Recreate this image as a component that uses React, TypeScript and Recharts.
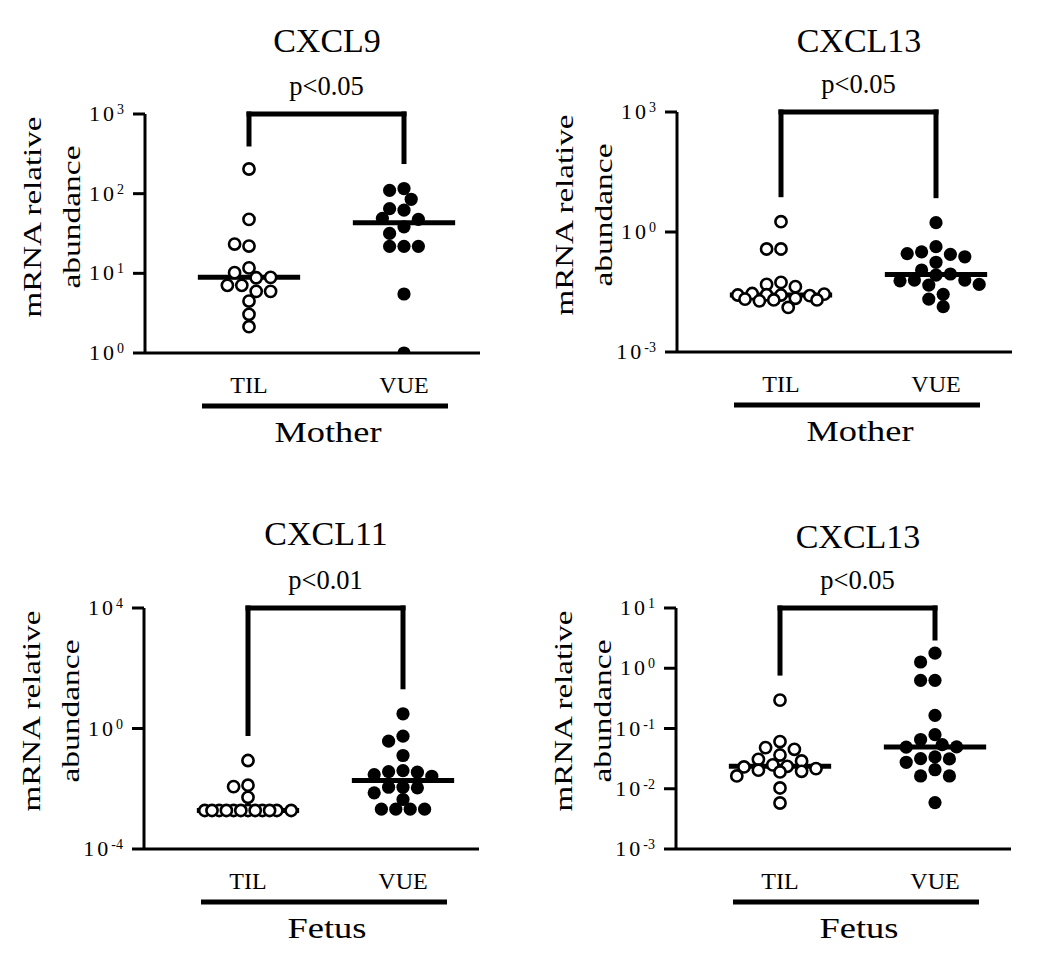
import React from "react";
import { ScatterChart, Scatter, XAxis, YAxis, ReferenceLine } from "recharts";

const FONT = "'Liberation Serif', 'Times New Roman', Times, serif";
const GROUPS = ["TIL", "VUE"];

// CXCL9 (mother)
const CXCL9_TIL = [204, 47.6, 22, 23.3, 11.7, 10.2, 8.8, 8.9, 7.07, 7.07, 5.94, 5.94, 4.49, 3.06, 2.14];
const CXCL9_VUE = [116, 110, 85, 62, 65, 47.6, 49, 38.4, 31.7, 21.8, 21.8, 21.8, 5.5, 1.0];
const CXCL9_MEDIAN = [8.9, 43];
const CXCL9_TICKS = [1, 10, 100, 1000];

// CXCL13 (mother)
const CXCL13M_TIL = [1.81, 0.376, 0.376, 0.055, 0.049, 0.043, 0.029, 0.0266, 0.0256, 0.0266, 0.028, 0.027, 0.022, 0.02, 0.019, 0.021, 0.02, 0.013];
const CXCL13M_VUE = [1.71, 0.43, 0.32, 0.277, 0.288, 0.24, 0.175, 0.112, 0.084, 0.089, 0.063, 0.063, 0.06, 0.049, 0.047, 0.0276, 0.021, 0.0136];
const CXCL13M_MEDIAN = [0.0266, 0.0865];
const CXCL13M_TICKS = [0.001, 1, 1000];

// CXCL11 (fetus)
const CXCL11_TIL = [0.0865, 0.0131, 0.0118, 0.0052, 0.0019, 0.0019, 0.0019, 0.0019, 0.0019, 0.0019, 0.0019, 0.0019, 0.0019, 0.0019, 0.0019, 0.0019];
const CXCL11_VUE = [3.08, 0.555, 0.38, 0.127, 0.04, 0.037, 0.0354, 0.0296, 0.026, 0.0112, 0.0112, 0.0107, 0.0073, 0.0044, 0.0021, 0.0021, 0.0021, 0.0021];
const CXCL11_MEDIAN = [0.0019, 0.0187];
const CXCL11_TICKS = [0.0001, 1, 10000];

// CXCL13 (fetus)
const CXCL13F_TIL = [0.296, 0.0607, 0.0482, 0.0452, 0.0363, 0.0308, 0.0289, 0.0249, 0.0236, 0.023, 0.0216, 0.0203, 0.0195, 0.019, 0.0163, 0.0103, 0.0058];
const CXCL13F_VUE = [1.78, 1.27, 0.63, 0.63, 0.165, 0.079, 0.0656, 0.054, 0.0495, 0.049, 0.0338, 0.0316, 0.0313, 0.0275, 0.0207, 0.0163, 0.0163, 0.0059];
const CXCL13F_MEDIAN = [0.0236, 0.0495];
const CXCL13F_TICKS = [0.001, 0.01, 0.1, 1, 10];

const TITLES = ["CXCL9", "CXCL13", "CXCL11", "CXCL13"];
const P_TEXTS = ["p<0.05", "p<0.05", "p<0.01", "p<0.05"];
const SOURCES = ["Mother", "Mother", "Fetus", "Fetus"];

const panels = [
  { title: TITLES[0], pText: P_TEXTS[0], group: SOURCES[0], til: CXCL9_TIL, vue: CXCL9_VUE, median: CXCL9_MEDIAN, ticks: CXCL9_TICKS, left: 0, top: 0, axisLeft: 145, plotTop: 114, plotH: 239, titleY: 52 },
  { title: TITLES[1], pText: P_TEXTS[1], group: SOURCES[1], til: CXCL13M_TIL, vue: CXCL13M_VUE, median: CXCL13M_MEDIAN, ticks: CXCL13M_TICKS, left: 532, top: 0, axisLeft: 145, plotTop: 112, plotH: 240, titleY: 52 },
  { title: TITLES[2], pText: P_TEXTS[2], group: SOURCES[2], til: CXCL11_TIL, vue: CXCL11_VUE, median: CXCL11_MEDIAN, ticks: CXCL11_TICKS, left: 0, top: 494, axisLeft: 144, plotTop: 114, plotH: 241, titleY: 51 },
  { title: TITLES[3], pText: P_TEXTS[3], group: SOURCES[3], til: CXCL13F_TIL, vue: CXCL13F_VUE, median: CXCL13F_MEDIAN, ticks: CXCL13F_TICKS, left: 532, top: 494, axisLeft: 144, plotTop: 114, plotH: 241, titleY: 54 },
];

const W = 490;
const H = 480;
const PLOT_W = 335;
const PX_PER_UNIT = 155;
const X_MIN = 1 - 104 / PX_PER_UNIT;
const X_MAX = X_MIN + PLOT_W / PX_PER_UNIT;
const STEP = 7.2; // half a dot column
const MAX_K = 6; // at most 3 columns each side
const MIN_DIST = 12;

// beeswarm: horizontal pixel offset for each value, squeezed when crowded
function swarm(values: number[], pxPerDecade: number): number[] {
  const placed: { y: number; dx: number }[] = [];
  return values.map((v) => {
    const y = -Math.log10(v) * pxPerDecade;
    let best = 0;
    let bestD = -1;
    for (let k = 0; k <= 2 * MAX_K; k++) {
      const dx = (k % 2 === 1 ? -1 : 1) * Math.ceil(k / 2) * STEP;
      const d = placed.reduce((m, p) => Math.min(m, Math.hypot(p.dx - dx, p.y - y)), Infinity);
      if (d >= MIN_DIST) {
        best = dx;
        break;
      }
      if (d > bestD + 0.5) {
        best = dx;
        bestD = d;
      }
    }
    placed.push({ y, dx: best });
    return best;
  });
}

const OpenDot = (props: any) => (
  <circle cx={props.cx + (props.payload?.dx ?? 0)} cy={props.cy} r={5.6} fill="#fff" stroke="#000" strokeWidth={2.6} />
);
const FilledDot = (props: any) => (
  <circle cx={props.cx + (props.payload?.dx ?? 0)} cy={props.cy} r={6.6} fill="#000" />
);

const PowTick = ({ y, payload, axisLeft }: any) => {
  const exp = Math.round(Math.log10(payload.value));
  return (
    <text x={axisLeft - 21} y={y + 7} textAnchor="end" fontFamily={FONT} fill="#000">
      <tspan fontSize={22} letterSpacing={3}>10</tspan>
      <tspan fontSize={14} dy={-7}>{String(exp)}</tspan>
    </text>
  );
};

const GroupTick = ({ x, y, payload }: any) => (
  <text x={x} y={y + 40} textAnchor="middle" fontFamily={FONT} fontSize={24} fill="#000">
    {GROUPS[payload.value - 1]}
  </text>
);

const Panel = ({ p }: any) => {
  const lo = p.ticks[0];
  const hi = p.ticks[p.ticks.length - 1];
  const pxDec = p.plotH / (Math.log10(hi) - Math.log10(lo));
  const tilDx = swarm(p.til, pxDec);
  const vueDx = swarm(p.vue, pxDec);
  const tilData = p.til.map((v: number, i: number) => ({ x: 1, y: v, dx: tilDx[i] }));
  const vueData = p.vue.map((v: number, i: number) => ({ x: 2, y: v, dx: vueDx[i] }));
  const legEnd = (vals: number[]) =>
    Math.min(Math.max(...vals) * Math.pow(10, 27 / pxDec), hi / Math.pow(10, 30 / pxDec));
  const plotBottom = p.plotTop + p.plotH;
  const xAxisH = 110;
  const groupLen = p.group === "Mother" ? 107 : 79;

  return (
    <div style={{ position: "absolute", left: p.left, top: p.top, width: W, height: H }}>
      <ScatterChart width={W} height={H} margin={{ top: p.plotTop, right: W - p.axisLeft - PLOT_W, bottom: H - plotBottom - xAxisH, left: 0 }}>
        <XAxis
          type="number"
          dataKey="x"
          domain={[X_MIN, X_MAX]}
          ticks={[1, 2]}
          allowDataOverflow
          height={xAxisH}
          tickLine={false}
          tickSize={0}
          tickMargin={0}
          axisLine={{ stroke: "#000", strokeWidth: 3 }}
          tick={<GroupTick />}
        />
        <YAxis
          type="number"
          dataKey="y"
          scale="log"
          domain={[lo, hi]}
          ticks={p.ticks}
          interval={0}
          allowDataOverflow
          width={p.axisLeft}
          tickSize={12}
          tickLine={{ stroke: "#000", strokeWidth: 3 }}
          axisLine={{ stroke: "#000", strokeWidth: 3 }}
          tick={<PowTick axisLeft={p.axisLeft} />}
        />
        <ReferenceLine
          segment={[{ x: 1, y: hi }, { x: 2, y: hi }]}
          stroke="#000"
          strokeWidth={5}
          strokeLinecap="square"
          ifOverflow="visible"
          label={{ value: p.pText, position: "top", offset: 19, fill: "#000", fontSize: 26.5, fontFamily: FONT }}
        />
        <ReferenceLine segment={[{ x: 1, y: hi }, { x: 1, y: legEnd(p.til) }]} stroke="#000" strokeWidth={5} strokeLinecap="square" ifOverflow="visible" />
        <ReferenceLine segment={[{ x: 2, y: hi }, { x: 2, y: legEnd(p.vue) }]} stroke="#000" strokeWidth={5} strokeLinecap="square" ifOverflow="visible" />
        <ReferenceLine segment={[{ x: 0.67, y: p.median[0] }, { x: 1.33, y: p.median[0] }]} stroke="#000" strokeWidth={5} ifOverflow="visible" />
        <ReferenceLine segment={[{ x: 1.67, y: p.median[1] }, { x: 2.33, y: p.median[1] }]} stroke="#000" strokeWidth={5} ifOverflow="visible" />
        <Scatter data={tilData} shape={<OpenDot />} isAnimationActive={false} />
        <Scatter data={vueData} shape={<FilledDot />} isAnimationActive={false} />
      </ScatterChart>
      <svg width={W} height={H} style={{ position: "absolute", left: 0, top: 0, pointerEvents: "none" }} fontFamily={FONT}>
        <text x={p.axisLeft + 182} y={p.titleY} textAnchor="middle" fontSize={34} fill="#000">{p.title}</text>
        <text transform={`translate(${p.axisLeft - 104},${p.plotTop + 103}) rotate(-90)`} textAnchor="middle" fontSize={25} fill="#000" textLength={201} lengthAdjust="spacingAndGlyphs">mRNA relative</text>
        <text transform={`translate(${p.axisLeft - 65},${p.plotTop + 103}) rotate(-90)`} textAnchor="middle" fontSize={25} fill="#000" textLength={143} lengthAdjust="spacingAndGlyphs">abundance</text>
        <rect x={p.axisLeft + 57} y={plotBottom + 50.5} width={246} height={5} fill="#000" />
        <text x={p.axisLeft + 183} y={plotBottom + 89} textAnchor="middle" fontSize={30} fill="#000" textLength={groupLen} lengthAdjust="spacingAndGlyphs">{p.group}</text>
      </svg>
    </div>
  );
};

export default function App() {
  return (
    <div style={{ position: "absolute", left: 0, top: 0, width: 1050, height: 957, background: "#fff" }}>
      {panels.map((p, i) => (
        <Panel key={i} p={p} />
      ))}
    </div>
  );
}
